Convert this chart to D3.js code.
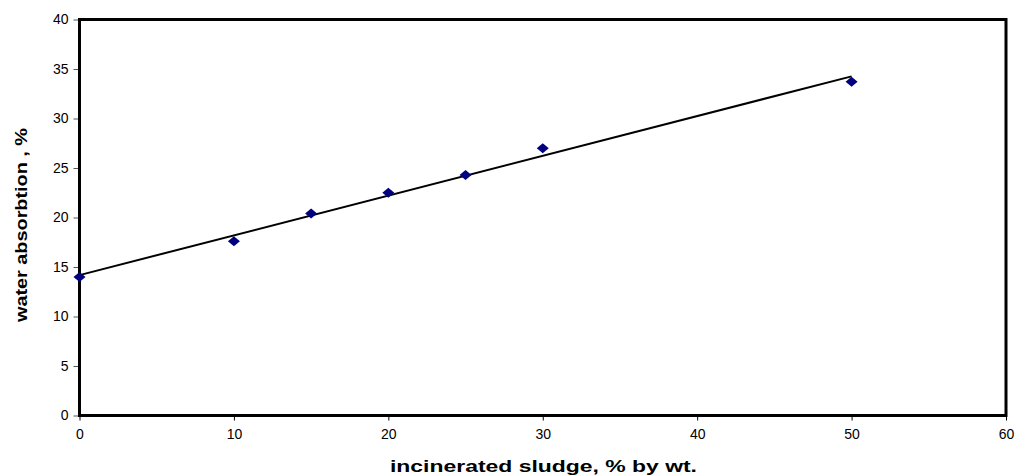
<!DOCTYPE html>
<html><head><meta charset="utf-8">
<script src="https://cdn.jsdelivr.net/npm/d3@7"></script>
<style>body{margin:0;background:#fff}svg{display:block}text{font-family:"Liberation Sans",Arial,sans-serif}</style>
</head><body>
<svg id="c" width="1019" height="475"></svg>
<script>
const sludge = [0, 10, 15, 20, 25, 30, 50];
const absorption = [14.0, 17.6, 20.4, 22.5, 24.3, 27.0, 33.7];
const xTicks = [0, 10, 20, 30, 40, 50, 60];
const yTicks = [0, 5, 10, 15, 20, 25, 30, 35, 40];
const xTitle = "incinerated sludge, % by wt.";
const yTitle = "water absorbtion , %";

const svg = d3.select("#c");
const L = 79.5, R = 1006, T = 19.5, B = 415.5;
const x = d3.scaleLinear().domain([0, 60]).range([L, R]);
const y = d3.scaleLinear().domain([0, 40]).range([B, T]);

const ya = svg.append("g").attr("transform", `translate(${L},0)`)
  .call(d3.axisLeft(y).tickValues(yTicks).tickSize(6).tickPadding(5).tickSizeOuter(0));
ya.select(".domain").remove();
ya.selectAll("line").attr("stroke", "#555");
ya.selectAll("text").attr("font-size", 14).attr("fill", "#000");

const xa = svg.append("g").attr("transform", `translate(0,${B})`)
  .call(d3.axisBottom(x).tickValues(xTicks).tickSize(5).tickPadding(9).tickSizeOuter(0));
xa.select(".domain").remove();
xa.selectAll("line").attr("stroke", "#000");
xa.selectAll("text").attr("font-size", 14).attr("fill", "#000");

svg.append("rect").attr("x", L).attr("y", T).attr("width", R - L).attr("height", B - T)
  .attr("fill", "none").attr("stroke", "#000").attr("stroke-width", 3);

// linear trendline (least squares)
const n = sludge.length;
const mx = d3.mean(sludge), my = d3.mean(absorption);
let sxy = 0, sxx = 0;
for (let i = 0; i < n; i++) { sxy += (sludge[i] - mx) * (absorption[i] - my); sxx += (sludge[i] - mx) ** 2; }
const slope = sxy / sxx, icpt = my - slope * mx;
const x0 = d3.min(sludge), x1 = d3.max(sludge);
svg.append("line").attr("x1", x(x0)).attr("y1", y(icpt + slope * x0))
  .attr("x2", x(x1)).attr("y2", y(icpt + slope * x1))
  .attr("stroke", "#000").attr("stroke-width", 2);

svg.append("g").selectAll("path").data(sludge).join("path")
  .attr("transform", (d, i) => `translate(${x(d)},${y(absorption[i])})`)
  .attr("d", "M0,-5L6,0L0,5L-6,0Z").attr("fill", "#000080");

svg.append("text").attr("x", 390).attr("y", 472)
  .attr("font-size", 17).attr("font-weight", "bold")
  .attr("textLength", 307).attr("lengthAdjust", "spacingAndGlyphs").text(xTitle);
svg.append("text").attr("transform", `translate(27,322) rotate(-90)`)
  .attr("font-size", 16).attr("font-weight", "bold")
  .attr("textLength", 194).attr("lengthAdjust", "spacingAndGlyphs").text(yTitle);
</script>
</body></html>
